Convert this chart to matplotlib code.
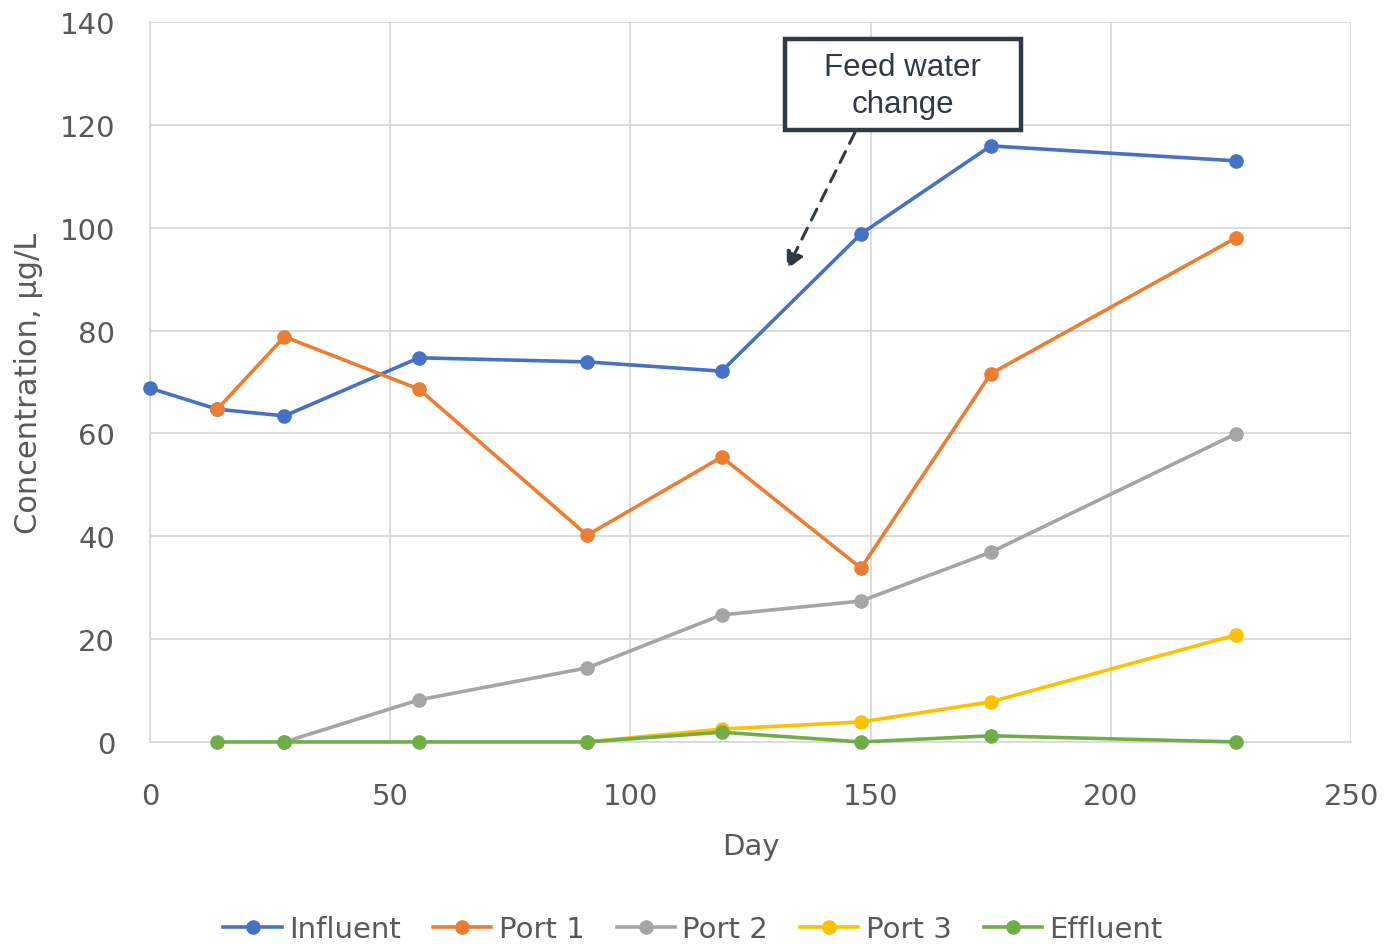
import matplotlib.pyplot as plt
from matplotlib.patches import FancyArrowPatch, Rectangle

# Sampling days and measured concentrations (ug/L) per sampling point
influent_days = [0, 14, 28, 56, 91, 119, 148, 175, 226]
influent = [68.8, 64.7, 63.4, 74.7, 73.9, 72.1, 98.8, 115.9, 113.0]

port1_days = [14, 28, 56, 91, 119, 148, 175, 226]
port1 = [64.7, 78.8, 68.6, 40.2, 55.4, 33.8, 71.6, 98.0]

port2_days = [28, 56, 91, 119, 148, 175, 226]
port2 = [0.0, 8.2, 14.4, 24.7, 27.4, 36.9, 59.9]

port3_days = [91, 119, 148, 175, 226]
port3 = [0.0, 2.5, 3.9, 7.8, 20.8]

effluent_days = [14, 28, 56, 91, 119, 148, 175, 226]
effluent = [0.0, 0.0, 0.0, 0.0, 1.9, 0.0, 1.2, 0.0]

series = [
    ('Influent', influent_days, influent, '#4472C4'),
    ('Port 1', port1_days, port1, '#ED7D31'),
    ('Port 2', port2_days, port2, '#A5A5A5'),
    ('Port 3', port3_days, port3, '#FFC000'),
    ('Effluent', effluent_days, effluent, '#70AD47'),
]

narrow = ['DejaVu Sans Condensed', 'DejaVu Sans']
dark = '#2f3a45'

fig = plt.figure(figsize=(13.86, 9.45), dpi=100)
ax = fig.add_axes([0.1082, 0.2138, 0.8666, 0.7619])

for name, days, vals, color in series:
    ax.plot(days, vals, color=color, linewidth=2.6, marker='o', markersize=9.5,
            label=name, zorder=3, clip_on=False)

ax.set_xlim(0, 250)
ax.set_ylim(0, 140)
ax.set_xticks(range(0, 251, 50))
ax.set_yticks(range(0, 141, 20))
ax.grid(True, color='#d9d9d9', linewidth=1.3)
ax.set_axisbelow(True)
for side in ['top', 'right']:
    ax.spines[side].set_visible(False)
for side in ['left', 'bottom']:
    ax.spines[side].set_color('#d9d9d9')
    ax.spines[side].set_linewidth(1.3)
ax.tick_params(length=0, labelsize=21, labelcolor='#595959')
ax.tick_params(axis='y', pad=25)
ax.tick_params(axis='x', pad=29)

ax.set_xlabel('Day', fontsize=21, color='#595959', labelpad=16, family=narrow)
ax.set_ylabel('Concentration, µg/L', fontsize=22, color='#595959', labelpad=12,
              family=narrow)

# Annotation: framed note with a dashed arrow pointing at the change
ax.add_patch(Rectangle((132.2, 119.0), 49.1, 17.7, facecolor='white',
                       edgecolor=dark, linewidth=3.2, zorder=5, clip_on=False))
ax.text(156.7, 127.6, 'Feed water\nchange', ha='center', va='center',
        fontsize=22.5, color=dark, family=['Liberation Sans', 'DejaVu Sans'],
        linespacing=1.32, zorder=6)
arrow = FancyArrowPatch((147.0, 119.0), (132.3, 91.4), arrowstyle='-|>',
                        mutation_scale=26, linestyle=(0, (4, 3)),
                        linewidth=2.2, color=dark, zorder=4)
ax.add_patch(arrow)

leg = fig.legend(loc='center', bbox_to_anchor=(0.5, 0.016), ncol=5,
                 frameon=False, handlelength=2.0,
                 columnspacing=1.1, handletextpad=0.25,
                 prop={'family': narrow, 'size': 21})
for t in leg.get_texts():
    t.set_color('#595959')

fig.savefig('out.png', dpi=100)
